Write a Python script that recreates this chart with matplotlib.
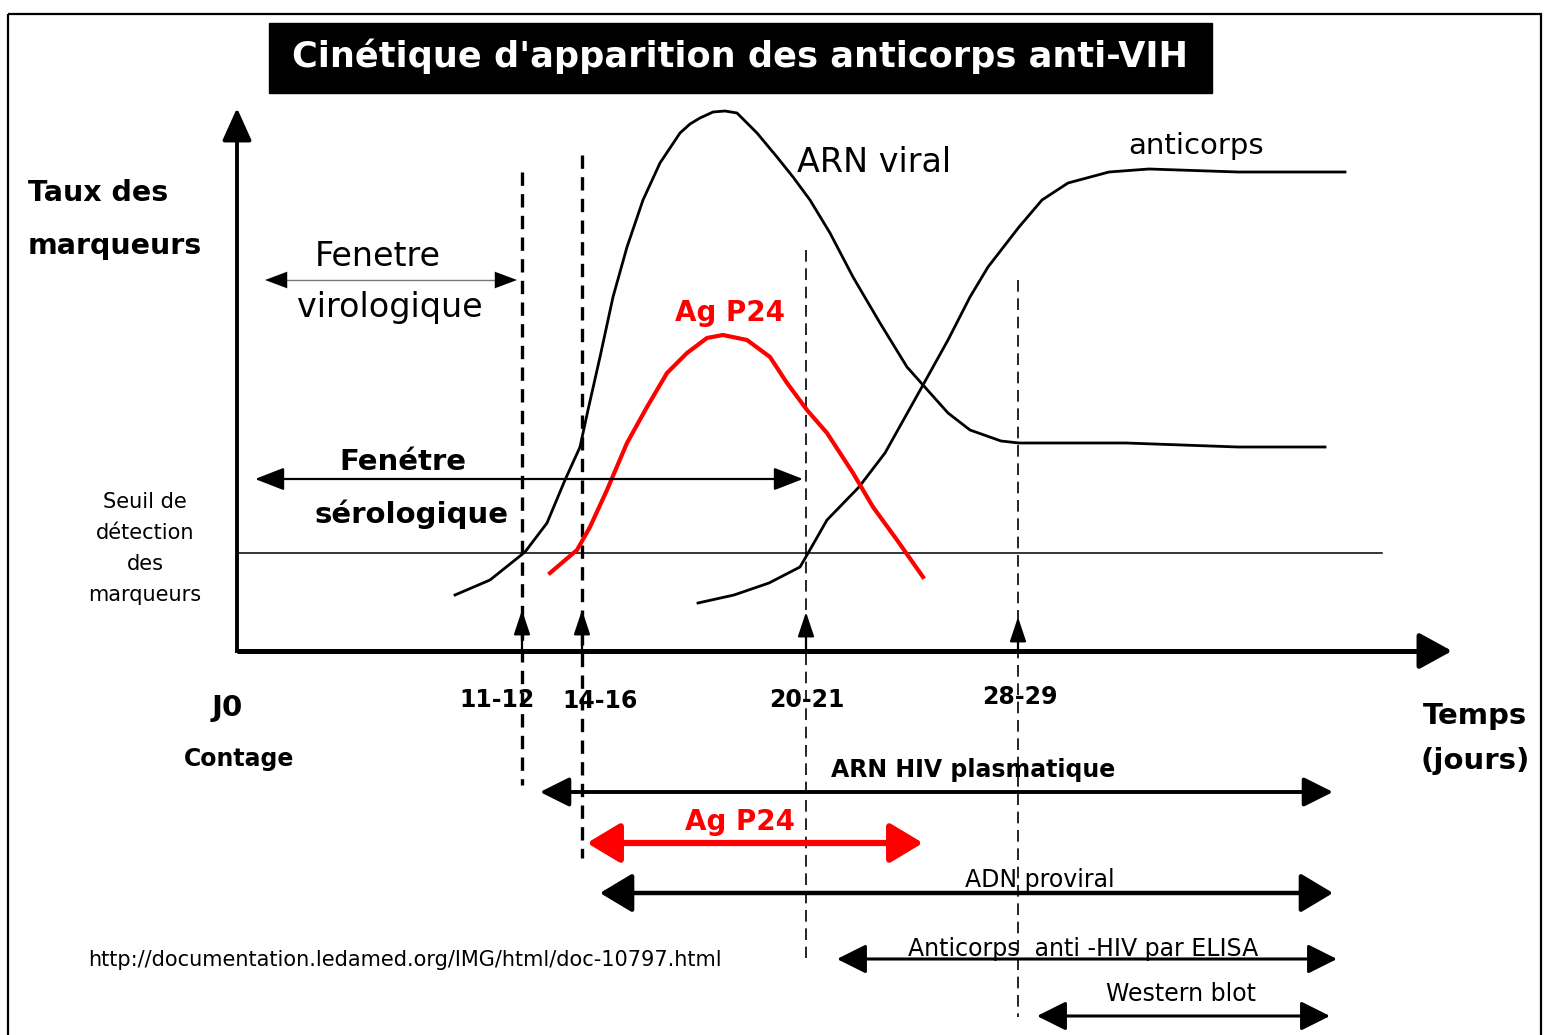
import matplotlib
matplotlib.use("Agg")
import matplotlib.pyplot as plt
from matplotlib.patches import Rectangle

plt.rcParams['font.family'] = ['DejaVu Sans']

# ---------------- data (diagram coordinates) ----------------
title = "Cinétique d'apparition des anticorps anti-VIH"

arn_x = [455, 490, 525, 547, 565, 580, 588, 600, 613, 627, 643, 660, 680, 690, 700, 713, 725, 737, 757, 777,
         793, 810, 830, 853, 880, 907, 923, 948, 970, 1001, 1019, 1126, 1238, 1325]
arn_y = [595, 580, 552, 523, 480, 447, 410, 357, 297, 247, 200, 163, 133, 124, 118, 112, 111, 113, 133, 157,
         177, 200, 233, 277, 323, 367, 385, 413, 430, 441, 443, 443, 447, 447]

ac_x = [698, 734, 769, 800, 807, 827, 859, 885, 923, 948, 970, 988, 1019, 1042, 1068, 1109, 1149, 1238, 1345]
ac_y = [603, 595, 583, 567, 555, 520, 487, 453, 385, 340, 297, 267, 227, 200, 183, 172, 169, 172, 172]

p24_x = [550, 577, 590, 607, 627, 647, 667, 687, 707, 723, 747, 770, 787, 807, 827, 853, 873, 897, 923]
p24_y = [573, 550, 527, 490, 443, 407, 373, 353, 338, 335, 340, 357, 383, 410, 433, 473, 507, 540, 577]

tick_labels = ["J0", "11-12", "14-16", "20-21", "28-29"]
tick_x = [227, 497, 600, 807, 1020]
tick_y = [708, 700, 701, 700, 697]

# vertical dashed markers: x, top, bottom
vline_x = [522, 582, 806, 1018]
vline_top = [172, 155, 250, 280]
vline_bot = [785, 858, 958, 1017]
arrow_tip_y = [610, 610, 612, 617]

# detection-method ranges: label, start, end, y
methods = ["ARN HIV plasmatique", "Ag P24", "ADN proviral", "Anticorps  anti -HIV par ELISA", "Western blot"]
meth_start = [540, 587, 600, 837, 1037]
meth_end = [1333, 923, 1333, 1337, 1330]
meth_y = [792, 843, 893, 959, 1016]

threshold_y = 553

# ---------------- figure ----------------
W, H = 1545, 1035
fig = plt.figure(figsize=(W / 100, H / 100), dpi=100)
ax = fig.add_axes([0, 0, 1, 1])
ax.set_xlim(0, W)
ax.set_ylim(H, 0)
ax.axis('off')

# border
ax.add_patch(Rectangle((8, 14), 1533, 1040, fill=False, lw=1.6, ec='black'))

# title box
ax.add_patch(Rectangle((269, 23), 943, 70, color='black'))
ax.text(740, 56, title, color='white', fontsize=25.3, fontweight='bold', ha='center', va='center')

# axes
ax.plot([237, 1430], [651, 651], color='black', lw=3.6, solid_capstyle='butt')
ax.annotate('', xy=(1452, 651), xytext=(1420, 651),
            arrowprops=dict(arrowstyle='-|>,head_length=1.0,head_width=0.55', color='black', lw=3.6,
                            mutation_scale=20, shrinkA=0, shrinkB=0))
ax.plot([237, 237], [653, 130], color='black', lw=2.8, solid_capstyle='butt')
ax.annotate('', xy=(237, 108), xytext=(237, 140),
            arrowprops=dict(arrowstyle='-|>,head_length=1.0,head_width=0.45', color='black', lw=2.8,
                            mutation_scale=20, shrinkA=0, shrinkB=0))

# threshold
ax.plot([237, 1382], [threshold_y, threshold_y], color='black', lw=1.1)

# vertical dashed lines
for i, (x, t, b) in enumerate(zip(vline_x, vline_top, vline_bot)):
    if i < 2:
        ax.plot([x, x], [t, b], color='black', lw=2.4, dashes=(4, 2.5))
    else:
        ax.plot([x, x], [t, b], color='black', lw=1.2, dashes=(7, 4))
    ax.annotate('', xy=(x, arrow_tip_y[i]), xytext=(x, 651),
                arrowprops=dict(arrowstyle='-|>,head_length=0.75,head_width=0.25', color='black', lw=1.6,
                                mutation_scale=20, shrinkA=0, shrinkB=0))

# curves
ax.plot(arn_x, arn_y, color='black', lw=2.0)
ax.plot(ac_x, ac_y, color='black', lw=2.0)
ax.plot(p24_x, p24_y, color='#ff0000', lw=3.0)

ax.text(797, 162, "ARN viral", fontsize=24, ha='left', va='center')
ax.text(1128, 146, "anticorps", fontsize=21, ha='left', va='center')
ax.text(730, 313, "Ag P24", fontsize=20, fontweight='bold', color='#ff0000', ha='center', va='center')

# y label
ax.text(28, 193, "Taux des", fontsize=20.5, fontweight='bold', ha='left', va='center')
ax.text(28, 246, "marqueurs", fontsize=20.5, fontweight='bold', ha='left', va='center')

# Fenetre virologique
ax.text(378, 257, "Fenetre", fontsize=24, ha='center', va='center')
ax.text(390, 307, "virologique", fontsize=24, ha='center', va='center')
ax.plot([280, 500], [280, 280], color='#777777', lw=1.0)
ax.annotate('', xy=(265, 280), xytext=(517, 280),
            arrowprops=dict(arrowstyle='<|-|>,head_length=0.8,head_width=0.3', lw=0.0,
                            mutation_scale=20, shrinkA=0, shrinkB=0, fc='black', ec='black'))

# Fenetre serologique
ax.text(403, 462, "Fenétre", fontsize=21, fontweight='bold', ha='center', va='center')
ax.text(411, 514, "sérologique", fontsize=21, fontweight='bold', ha='center', va='center')
ax.annotate('', xy=(255, 479), xytext=(803, 479),
            arrowprops=dict(arrowstyle='<|-|>,head_length=0.9,head_width=0.35', color='black', lw=1.6,
                            mutation_scale=20, shrinkA=0, shrinkB=0))

# Seuil
for txt, yy in zip(["Seuil de", "détection", "des", "marqueurs"], [502, 533, 564, 595]):
    ax.text(145, yy, txt, fontsize=15, ha='center', va='center')

# ticks labels
for lab, x, y in zip(tick_labels, tick_x, tick_y):
    ax.text(x, y, lab, fontsize=21 if lab == "J0" else 17, fontweight='bold', ha='center', va='center')
ax.text(239, 759, "Contage", fontsize=17, fontweight='bold', ha='center', va='center')

ax.text(1475, 716, "Temps", fontsize=21, fontweight='bold', ha='center', va='center')
ax.text(1475, 761, "(jours)", fontsize=21, fontweight='bold', ha='center', va='center')

# method ranges
styles = [
    dict(color='black', lw=2.8, hl=0.9, hw=0.45, tx=973, ty=770, fs=17, fw='bold'),
    dict(color='#ff0000', lw=4.5, hl=1.0, hw=0.6, tx=740, ty=822, fs=20, fw='bold'),
    dict(color='black', lw=3.2, hl=1.0, hw=0.6, tx=1040, ty=880, fs=17, fw='normal'),
    dict(color='black', lw=2.2, hl=0.9, hw=0.45, tx=1083, ty=949, fs=17, fw='normal'),
    dict(color='black', lw=2.2, hl=0.9, hw=0.45, tx=1181, ty=994, fs=17, fw='normal'),
]
for name, x1, x2, yy, st in zip(methods, meth_start, meth_end, meth_y, styles):
    ax.annotate('', xy=(x2, yy), xytext=(x1, yy),
                arrowprops=dict(arrowstyle='<|-|>,head_length=%g,head_width=%g' % (st['hl'], st['hw']),
                                color=st['color'], lw=st['lw'], mutation_scale=20,
                                shrinkA=0, shrinkB=0))
    ax.text(st['tx'], st['ty'], name, fontsize=st['fs'], fontweight=st['fw'], color=st['color'],
            ha='center', va='center')

ax.text(88, 960, "http://documentation.ledamed.org/IMG/html/doc-10797.html", fontsize=15,
        ha='left', va='center')

fig.savefig("out.png", dpi=100)
